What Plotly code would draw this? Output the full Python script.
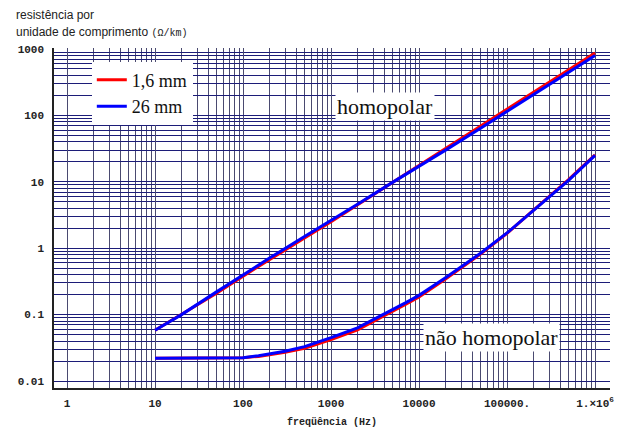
import plotly.graph_objects as go

# ---- data ----
freq_h = [10, 20, 50, 100, 200, 500, 1000, 2000, 5000, 1e4, 2e4, 5e4, 1e5, 2e5, 5e5, 1e6]
homo_16 = [0.058, 0.1, 0.21, 0.38, 0.68, 1.43, 2.5, 4.5, 9.8, 17.5, 31.5, 68, 123, 220, 475, 870]
homo_26 = [0.058, 0.1, 0.22, 0.40, 0.71, 1.5, 2.6, 4.6, 9.8, 17, 30, 64, 115, 205, 440, 800]

freq_n = [10, 20, 50, 100, 150, 200, 300, 500, 700, 1000, 2000, 3000, 5000, 7000, 1e4, 2e4, 5e4, 1e5, 2e5, 5e5, 1e6]
nhomo_16 = [0.022, 0.022, 0.022, 0.0224, 0.0235, 0.025, 0.027, 0.031, 0.036, 0.042, 0.059, 0.078, 0.111, 0.142, 0.185, 0.345, 0.82, 1.68, 3.75, 10.8, 25.5]
nhomo_26 = [0.022, 0.022, 0.022, 0.0225, 0.024, 0.0255, 0.028, 0.033, 0.038, 0.045, 0.063, 0.083, 0.118, 0.15, 0.195, 0.36, 0.84, 1.7, 3.7, 10.5, 25]

x_tickvals = [1, 10, 100, 1000, 10000, 100000, 1000000]
x_ticktext = ["1", "10", "100", "1000", "10000", "100000.", "1.×10<sup>6</sup>"]
y_tickvals = [0.01, 0.1, 1, 10, 100, 1000]
y_ticktext = ["0.01", "0.1", "1", "10", "100", "1000"]

series_names = ["1,6 mm", "26 mm"]
series_colors = ["#ff0000", "#0000ff"]

x_minor = [m * 10 ** e for e in range(0, 7) for m in range(2, 10)]
y_minor = [m * 10 ** e for e in range(-2, 3) for m in range(2, 10)]

fig = go.Figure()
fig.add_trace(go.Scatter(x=freq_h, y=homo_16, mode="lines", name=series_names[0],
                         line=dict(color=series_colors[0], width=3), legendgroup="a"))
fig.add_trace(go.Scatter(x=freq_n, y=nhomo_16, mode="lines", name=series_names[0],
                         line=dict(color=series_colors[0], width=3), legendgroup="a", showlegend=False))
fig.add_trace(go.Scatter(x=freq_h, y=homo_26, mode="lines", name=series_names[1],
                         line=dict(color=series_colors[1], width=3), legendgroup="b"))
fig.add_trace(go.Scatter(x=freq_n, y=nhomo_26, mode="lines", name=series_names[1],
                         line=dict(color=series_colors[1], width=3), legendgroup="b", showlegend=False))

vgrid = "#4a4a70"
hgrid = "#1c1c78"
mono = "Liberation Mono"

fig.update_xaxes(type="log", range=[-0.148, 6.17], automargin=False,
                 tickvals=x_tickvals, ticktext=x_ticktext,
                 tickfont=dict(family=mono, size=11, color="#222", weight="bold"),
                 showgrid=True, gridcolor=vgrid, gridwidth=1.2,
                 minor=dict(tickvals=x_minor, showgrid=True, gridcolor=vgrid, gridwidth=1.2, ticks=""),
                 showline=True, linecolor="#222", linewidth=1.5, zeroline=False,
                 ticks="", ticklabelstandoff=4)
fig.update_yaxes(type="log", range=[-2.105, 3.015], automargin=False,
                 tickvals=y_tickvals, ticktext=y_ticktext,
                 tickfont=dict(family=mono, size=11, color="#222", weight="bold"),
                 showgrid=True, gridcolor=hgrid, gridwidth=1.2,
                 minor=dict(tickvals=y_minor, showgrid=True, gridcolor=hgrid, gridwidth=1.2, ticks=""),
                 showline=True, linecolor="#222", linewidth=1.5, zeroline=False,
                 ticks="", ticklabelstandoff=6)

fig.add_annotation(xref="paper", yref="paper", x=0.5, y=-0.102, xanchor="center", yanchor="middle",
                   text="freqüência (Hz)", showarrow=False,
                   font=dict(family=mono, size=10, color="#222", weight="bold"))
fig.add_annotation(xref="paper", yref="paper", x=-0.072, y=1.097, xanchor="left", yanchor="middle",
                   text="resistência por", showarrow=False,
                   font=dict(family="Liberation Sans", size=12, color="#222"))
fig.add_annotation(xref="paper", yref="paper", x=-0.072, y=1.047, xanchor="left", yanchor="middle",
                   text="unidade de comprimento <span style=\"font-family:Liberation Mono;font-size:10px\">(Ω/km)</span>",
                   showarrow=False, font=dict(family="Liberation Sans", size=12, color="#222"))
fig.add_annotation(xref="paper", yref="paper", x=0.595, y=0.829, xanchor="center", yanchor="middle",
                   text="homopolar", showarrow=False, bgcolor="white", borderpad=1,
                   font=dict(family="Liberation Serif", size=22, color="#111"))
fig.add_annotation(xref="paper", yref="paper", x=0.786, y=0.15, xanchor="center", yanchor="middle",
                   text="não homopolar", showarrow=False, bgcolor="white", borderpad=1,
                   font=dict(family="Liberation Serif", size=22, color="#111"))

fig.update_layout(width=624, height=439,
                  margin=dict(l=54, r=14, t=48, b=51),
                  paper_bgcolor="white", plot_bgcolor="white",
                  showlegend=True,
                  legend=dict(x=0.068, y=0.96, xanchor="left", yanchor="top",
                              bgcolor="white", borderwidth=0,
                              font=dict(family="Liberation Serif", size=18, color="#111"),
                              tracegroupgap=0, itemwidth=30))

fig.write_html("out.html")
